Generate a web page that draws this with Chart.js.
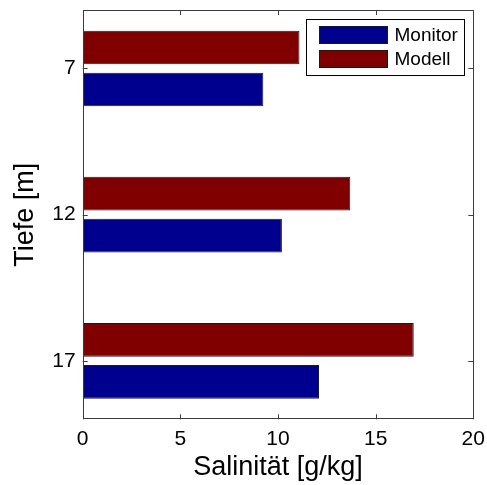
<!DOCTYPE html>
<html>
<head>
<meta charset="utf-8">
<script src="https://cdn.jsdelivr.net/npm/chart.js@4"></script>
<style>
  html, body { margin: 0; padding: 0; background: #fff; }
  #wrap { width: 487px; height: 485px; position: relative; }
</style>
</head>
<body>
<div id="wrap"><canvas id="salChart"></canvas></div>
<script>
// depth levels (y) and salinity per series (x)
const depths = [7, 12, 17];
const monitorValues = [9.25, 10.2, 12.1];
const modellValues = [11.1, 13.7, 16.95];
const xTicks = [0, 5, 10, 15, 20];
const legendOrder = ['Monitor', 'Modell'];

const FONT = "'Liberation Sans', Arial, Helvetica, sans-serif";
const frameColor = '#3c3c3c';

// MATLAB style box with inward ticks, plus a framed legend in the corner
const matlabFrame = {
  id: 'matlabFrame',
  afterDraw(chart) {
    const { ctx, chartArea: a, scales } = chart;
    const tl = 5;
    ctx.save();
    ctx.strokeStyle = frameColor;
    ctx.lineWidth = 1;
    ctx.beginPath();
    ctx.rect(Math.round(a.left) + 0.5, Math.round(a.top) + 0.5,
             Math.round(a.right - a.left) - 1, Math.round(a.bottom - a.top) - 1);
    scales.x.ticks.forEach(t => {
      const px = Math.round(scales.x.getPixelForValue(t.value)) + 0.5;
      ctx.moveTo(px, a.top); ctx.lineTo(px, a.top + tl);
      ctx.moveTo(px, a.bottom); ctx.lineTo(px, a.bottom - tl);
    });
    scales.y.ticks.forEach(t => {
      const py = Math.round(scales.y.getPixelForValue(t.value)) + 0.5;
      ctx.moveTo(a.left, py); ctx.lineTo(a.left + tl, py);
      ctx.moveTo(a.right, py); ctx.lineTo(a.right - tl, py);
    });
    ctx.stroke();

    // legend
    const bx = 306.5, by = 19.5, bw = 158, bh = 56;
    ctx.fillStyle = '#fff';
    ctx.fillRect(bx, by, bw, bh);
    ctx.strokeStyle = '#000';
    ctx.strokeRect(bx, by, bw, bh);
    ctx.font = '19px ' + FONT;
    ctx.textBaseline = 'middle';
    ctx.textAlign = 'left';
    legendOrder.forEach((name, i) => {
      const ds = chart.data.datasets.find(d => d.label === name);
      const y = by + 7 + i * 24;
      ctx.fillStyle = ds.backgroundColor;
      ctx.fillRect(bx + 13, y, 68, 17);
      ctx.strokeStyle = '#1a1a1a';
      ctx.strokeRect(bx + 13, y, 68, 17);
      ctx.fillStyle = '#000';
      ctx.fillText(name, bx + 88, y + 9);
    });
    ctx.restore();
  }
};

new Chart(document.getElementById('salChart'), {
  type: 'bar',
  data: {
    datasets: [
      {
        label: 'Modell',
        data: depths.map((d, i) => ({ x: modellValues[i], y: d })),
        backgroundColor: '#800000',
        borderColor: '#1a1a1a',
        borderWidth: 1,
        borderSkipped: false
      },
      {
        label: 'Monitor',
        data: depths.map((d, i) => ({ x: monitorValues[i], y: d })),
        backgroundColor: '#00008f',
        borderColor: '#1a1a1a',
        borderWidth: 1,
        borderSkipped: false
      }
    ]
  },
  options: {
    indexAxis: 'y',
    responsive: true,
    maintainAspectRatio: false,
    animation: false,
    categoryPercentage: 0.575,
    barPercentage: 0.8,
    layout: { padding: { left: 0, right: 13.7, top: 10, bottom: 0 } },
    plugins: {
      legend: { display: false },
      tooltip: { enabled: false }
    },
    scales: {
      x: {
        type: 'linear',
        min: 0,
        max: 20,
        offset: false,
        afterBuildTicks: s => { s.ticks = xTicks.map(v => ({ value: v })); },
        afterFit: s => { s.height = 65.7; s.paddingLeft = 0; s.paddingRight = 0; },
        grid: { display: false, drawTicks: false },
        border: { display: false },
        ticks: { color: '#000', padding: 7, font: { family: FONT, size: 21 } },
        title: {
          display: true,
          text: 'Salinität [g/kg]',
          color: '#000',
          font: { family: FONT, size: 27 },
          padding: { top: 0, bottom: 1 }
        }
      },
      y: {
        type: 'linear',
        min: 5,
        max: 19,
        reverse: true,
        offset: false,
        afterBuildTicks: s => { s.ticks = depths.map(v => ({ value: v })); },
        afterFit: s => { s.width = 82.7; s.paddingTop = 0; s.paddingBottom = 0; },
        grid: { display: false, drawTicks: false, offset: false },
        border: { display: false },
        ticks: { color: '#000', padding: 7, font: { family: FONT, size: 21 } },
        title: {
          display: true,
          text: 'Tiefe [m]',
          color: '#000',
          font: { family: FONT, size: 27 },
          padding: { top: 9, bottom: 0 }
        }
      }
    }
  },
  plugins: [matlabFrame]
});
</script>
</body>
</html>
